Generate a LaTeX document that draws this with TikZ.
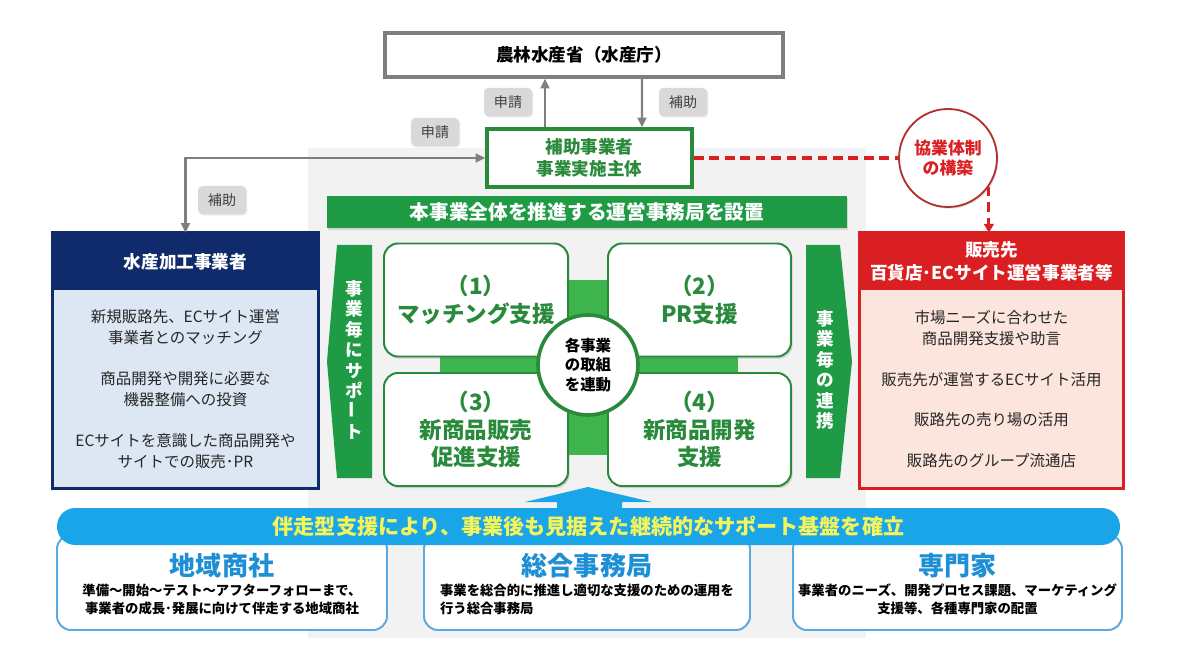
\documentclass[tikz,border=0pt]{standalone}
\usepackage{fontspec}
\setmainfont{Noto Sans CJK JP}
\usetikzlibrary{arrows.meta,positioning,calc,shadows}
\definecolor{linegrey}{HTML}{7F7F7F}
\definecolor{tagfill}{HTML}{D9D9D9}
\definecolor{taggrey}{HTML}{404040}
\definecolor{leaf}{HTML}{2A8A3C}
\definecolor{leafbar}{HTML}{1F9A45}
\definecolor{leaflight}{HTML}{3DB54C}
\definecolor{navy}{HTML}{0F2B6B}
\definecolor{ice}{HTML}{DDE7F3}
\definecolor{brick}{HTML}{DA1F22}
\definecolor{blush}{HTML}{FCE5DC}
\definecolor{wine}{HTML}{B3312F}
\definecolor{sky}{HTML}{1AA5E8}
\definecolor{skytitle}{HTML}{1E8FD5}
\definecolor{skyline}{HTML}{5AAADF}
\definecolor{lemon}{HTML}{F4F45C}
\definecolor{panel}{HTML}{F2F2F2}
\definecolor{ink}{HTML}{262626}
\newcommand{\pxu}{0.025cm}
\tikzset{
  sz/.style 2 args={minimum width=#1*\pxu,minimum height=#2*\pxu,inner sep=0pt},
  tag/.style={fill=tagfill,rounded corners=3pt,text=taggrey,font=\fontsize{10}{12}\selectfont,sz={48}{28},
    drop shadow={opacity=0.2,shadow xshift=0.8pt,shadow yshift=-1pt}},
  link/.style={-{Triangle[length=2.4mm,width=2.2mm]},draw=linegrey,line width=1.6pt},
  pact/.style={draw=brick,line width=2.2pt,dash pattern=on 7pt off 4pt},
  card/.style={draw=leaf,fill=white,line width=1.4pt,rounded corners=10pt,sz={184}{113},align=center,text=leaf,
    font=\bfseries\fontsize{16}{19.5}\selectfont,drop shadow={opacity=0.3,shadow xshift=1.2pt,shadow yshift=-1.5pt}},
  head/.style={text=white,align=center,font=\bfseries\fontsize{12.5}{16}\selectfont},
  body/.style={align=center,text=ink,font=\fontsize{11}{15}\selectfont},
  vband/.style={text=white,align=center,font=\bfseries\fontsize{12.5}{14.6}\selectfont},
  unit/.style={draw=skyline,fill=white,line width=1.4pt,rounded corners=10pt},
  unittitle/.style={text=skytitle,font=\bfseries\fontsize{18.5}{20}\selectfont},
  unitnote/.style={text=black,align=center,font=\bfseries\fontsize{9.5}{12.8}\selectfont},
}

\begin{document}
\begin{tikzpicture}[x=0.025cm,y=-0.025cm]
  \useasboundingbox (0,0) rectangle (1180,656);
  % back panel
  \fill[panel] (308,148) rectangle (866,638);
  % ministry and implementing body
  \node[draw=linegrey,line width=2.5pt,fill=white,sz={398}{44},font=\bfseries\fontsize{12.5}{14}\selectfont] (gov) at (584,55) {農林水産省（水産庁）};
  \node[draw=leaf,line width=2.5pt,fill=white,sz={205}{58},align=center,text=leaf,font=\bfseries\fontsize{12.5}{15.6}\selectfont] (impl) at (589.5,158) {補助事業者\\事業実施主体};
  \node[tag] (rq1) at (508,102) {申請};
  \node[tag] (sb1) at (683,102) {補助};
  \node[tag] (rq2) at (435,132) {申請};
  \node[tag] (sb2) at (222,200) {補助};
  \draw[link] ($(impl.north)+(-44.5,0)$) -- ($(gov.south)+(-39,0)$);
  \draw[link] ($(gov.south)+(58,0)$) -- ($(impl.north)+(52.5,0)$);
  % processors (left)
  \node[fill=navy,head,sz={265}{57}] (proc) at (185.5,261.5) {水産加工事業者};
  \node[fill=ice,body,sz={265}{198}] (procb) at (185.5,389) {新規販路先、ECサイト運営\\事業者とのマッチング\\[14pt]商品開発や開発に必要な\\機器整備への投資\\[14pt]ECサイトを意識した商品開発や\\サイトでの販売･PR};
  \draw[navy,line width=2.5pt] (proc.north west) rectangle (procb.south east);
  \draw[link,{Triangle[length=2.4mm,width=2.2mm]}-{Triangle[length=2.4mm,width=2.2mm]}] (impl.west) -| (proc.north);
  % sellers (right)
  \node[fill=brick,head,sz={263}{57}] (sell) at (991.5,261.5) {販売先\\百貨店･ECサイト運営事業者等};
  \node[fill=blush,body,sz={263}{198}] (sellb) at (991.5,389) {市場ニーズに合わせた\\商品開発支援や助言\\[14pt]販売先が運営するECサイト活用\\[14pt]販路先の売り場の活用\\[14pt]販路先のグループ流通店};
  \draw[brick,line width=2.5pt] (sell.north west) rectangle (sellb.south east);
  \node[circle,draw=wine,line width=1.3pt,fill=white,minimum size=98*\pxu,inner sep=0pt,align=center,text=brick,
    font=\bfseries\fontsize{12}{14.7}\selectfont,drop shadow={opacity=0.25,shadow xshift=1pt,shadow yshift=-1.2pt}] (coop) at (948,158) {協業体制\\の構築};
  \draw[pact] (impl.east) -- (coop.west);
  \draw[pact,-{Triangle[length=2.2mm,width=2.4mm]}] (coop.-35) -- (coop.-35 |- sell.north);
  % secretariat banner and side bands
  \node[fill=leafbar,text=white,font=\bfseries\fontsize{14}{16}\selectfont,sz={520}{32},
    drop shadow={opacity=0.25,shadow xshift=1pt,shadow yshift=-1.2pt}] (hq) at (587,212) {本事業全体を推進する運営事務局を設置};
  \fill[leafbar] (337,245) -- (372,245) -- (372,478) -- (337,478) -- (327,361.5) -- cycle;
  \node[vband] (lsup) at (354.5,360) {事\\業\\毎\\に\\サ\\ポ\\\rotatebox{90}{ー}\\ト};
  \fill[leafbar] (806,245) -- (840,245) -- (852,361.5) -- (840,478) -- (806,478) -- cycle;
  \node[vband] (rsup) at (825,370) {事\\業\\毎\\の\\連\\携};
  % four support cards round the hub
  \fill[leaflight] (567,280) rectangle (607,455);
  \fill[leaflight] (440,352) rectangle (738,376);
  \node[card] (s1) at (476,300) {（1）\\マッチング支援};
  \node[card,sz={183}{113}] (s2) at (699.5,300) {（2）\\PR支援};
  \node[card] (s3) at (476,429.5) {（3）\\新商品販売\\促進支援};
  \node[card,sz={183}{113}] (s4) at (699.5,429.5) {（4）\\新商品開発\\支援};
  \node[circle,draw=leaf,line width=2.6pt,fill=white,minimum size=100*\pxu,inner sep=0pt,align=center,
    font=\bfseries\fontsize{11}{14}\selectfont] (hub) at (588,365) {各事業\\の取組\\を連動};
  % support base
  \node[unit,sz={330}{95}] (reg) at (222,582.5) {};
  \node[unit,sz={326}{95}] (sec) at (587,582.5) {};
  \node[unit,sz={329}{95}] (pro) at (957.5,582.5) {};
  \node[unittitle] (regt) at (222,566) {地域商社};
  \node[unittitle] (sect) at (587,566) {総合事務局};
  \node[unittitle] (prot) at (957.5,566) {専門家};
  \node[unitnote] (regn) at (222,599) {準備～開始～テスト～アフターフォローまで、\\事業者の成長･発展に向けて伴走する地域商社};
  \node[unitnote,align=left] (secn) at (587,599) {事業を総合的に推進し適切な支援のための運用を\\行う総合事務局};
  \node[unitnote] (pron) at (957.5,599) {事業者のニーズ、開発プロセス課題、マーケティング\\支援等、各種専門家の配置};
  \fill[sky] (588,487) -- (652,502) -- (622,502) -- (622,512) -- (557,512) -- (557,502) -- (525,502) -- cycle;
  \node[fill=sky,rounded corners=13pt,sz={1063}{37},text=lemon,font=\bfseries\fontsize{15}{17}\selectfont] (base) at (588.5,526.5) {伴走型支援により、事業後も見据えた継続的なサポート基盤を確立};
\end{tikzpicture}
\end{document}
